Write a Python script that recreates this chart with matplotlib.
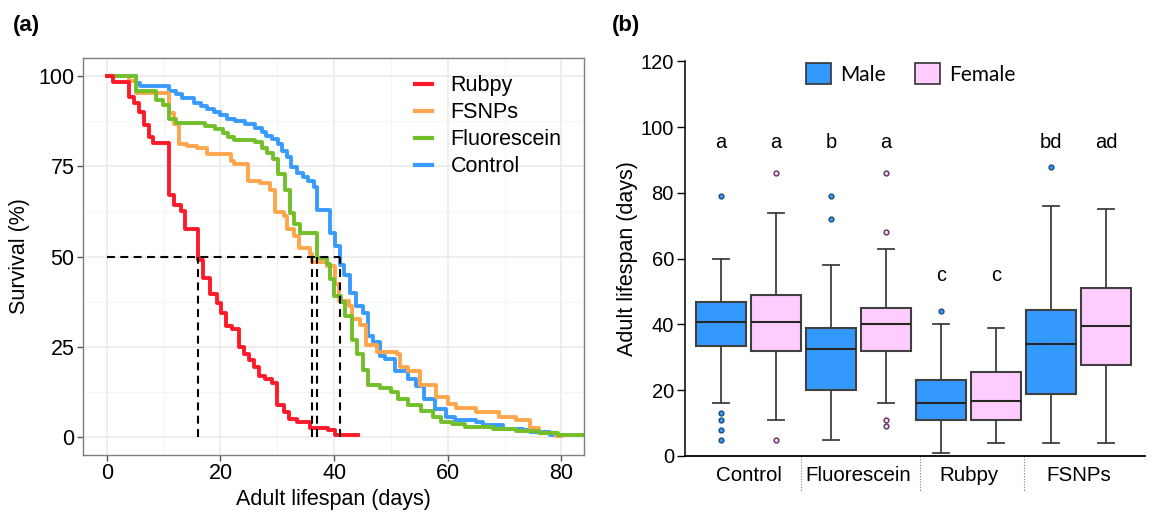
import matplotlib.pyplot as plt
import matplotlib.transforms as mtransforms
from matplotlib.patches import Patch
import numpy as np

plt.rcParams['font.family'] = ['Liberation Sans', 'DejaVu Sans']

# ---- panel (a): Kaplan-Meier steps, time (days) and survival (%)
control_t = [0, 5.1, 5.9, 10.9, 12.1, 13.3, 15.3, 16.5, 17.7, 18.8, 20.0, 21.2, 22.5, 24.3,
             26.0, 27.3, 28.0, 29.1, 30.2, 30.8, 31.7, 32.4, 33.4, 34.5, 35.4, 36.4, 37.0,
             39.3, 40.1, 41.0, 41.8, 42.8, 43.9, 45.1, 46.0, 46.9, 48.1, 48.9, 50.7, 53.0,
             54.5, 55.8, 57.7, 59.7, 61.2, 65.0, 66.2, 69.7, 73.2, 74.4, 78.0, 80.0]
control_s = [100, 98.0, 97.2, 95.8, 94.9, 94.0, 92.6, 91.7, 90.9, 90.0, 89.2, 88.2, 87.5, 86.6,
             85.7, 84.6, 83.5, 82.5, 81.1, 79.3, 77.5, 74.9, 73.1, 72.0, 71.0, 69.2, 63.0,
             56.6, 52.9, 47.6, 45.0, 40.0, 36.3, 34.4, 28.0, 26.2, 22.5, 21.5, 18.3, 16.0,
             14.2, 10.5, 7.8, 5.5, 4.6, 4.1, 3.2, 2.3, 1.8, 1.4, 0.5, 0.5]

fluor_t = [0, 5.1, 8.7, 9.9, 10.9, 12.1, 17.3, 19.1, 20.5, 21.3, 22.3, 26.1, 27.3, 28.2, 29.2,
           30.2, 31.4, 32.2, 33.0, 34.0, 37.0, 38.7, 39.3, 39.9, 41.3, 42.0, 43.1, 44.1, 45.1,
           46.0, 48.1, 50.0, 51.3, 53.0, 55.3, 57.4, 58.8, 60.7, 63.0, 68.0, 72.0, 76.0, 79.5, 84.0]
fluor_s = [100, 95.8, 93.5, 92.1, 88.0, 87.1, 86.2, 85.3, 84.2, 83.0, 82.4, 81.6, 80.2, 78.6, 77.0,
           73.0, 68.5, 62.0, 59.0, 56.5, 49.6, 47.9, 43.7, 39.1, 37.5, 33.5, 27.0, 23.0, 18.5,
           14.5, 13.6, 12.5, 10.5, 8.8, 7.3, 5.5, 4.2, 3.5, 2.7, 2.1, 1.6, 1.0, 0.5, 0.5]

fsnp_t = [0, 3.9, 5.1, 10.9, 11.8, 12.7, 14.1, 15.8, 17.7, 21.8, 22.4, 24.8, 27.0, 28.8, 29.6,
          31.2, 31.8, 33.0, 33.8, 35.8, 36.2, 38.7, 40.2, 40.8, 42.6, 43.1, 44.6, 45.7, 47.5,
          51.0, 51.6, 53.1, 55.1, 58.0, 60.0, 61.5, 65.0, 69.0, 72.0, 74.4, 76.0, 79.0, 80.0]
fsnp_s = [100, 98.5, 95.4, 89.8, 86.6, 81.1, 80.7, 80.2, 78.3, 76.6, 75.5, 71.0, 70.5, 68.5, 62.2,
          61.2, 57.5, 55.8, 52.3, 50.8, 48.5, 47.4, 42.5, 37.7, 36.3, 32.6, 30.9, 25.4, 23.6,
          23.1, 19.4, 18.4, 14.5, 11.0, 9.0, 8.0, 6.9, 5.5, 4.8, 2.5, 1.2, 0.4, 0.4]

rubpy_t = [0, 1.0, 3.9, 4.7, 5.6, 6.5, 7.5, 8.2, 10.9, 11.8, 13.0, 13.8, 16.0, 17.0, 18.2,
           19.4, 20.1, 20.9, 22.1, 23.2, 24.1, 25.0, 25.9, 26.7, 27.9, 29.1, 29.9, 31.1, 32.0,
           33.4, 35.7, 38.9, 40.1, 44.2]
rubpy_s = [100, 98.3, 94.3, 92.4, 90.1, 86.5, 83.2, 81.4, 67.1, 64.3, 62.5, 57.5, 49.0, 44.1, 39.5,
           37.2, 34.4, 30.7, 29.9, 24.8, 23.0, 21.2, 19.3, 16.9, 16.0, 15.0, 8.8, 6.9, 5.1,
           4.2, 2.4, 1.9, 0.6, 0.6]

medians = [16, 36.2, 37, 41]

# ---- panel (b): box summaries (days), order: Control M/F, Fluorescein M/F, Rubpy M/F, FSNPs M/F
groups = ['Control', 'Fluorescein', 'Rubpy', 'FSNPs']
sexes = ['Male', 'Female']
q1 = [33.5, 32, 20, 32, 11, 11, 19, 27.6]
med = [40.9, 40.9, 32.5, 40, 16, 16.8, 34, 39.6]
q3 = [46.7, 48.9, 39, 45, 23, 25.4, 44.4, 51]
whislo = [16, 11, 5, 16, 1, 4, 4, 4]
whishi = [60, 74, 58, 63, 40, 39, 76, 75]
fliers = [[79, 13, 11, 8, 5], [86, 5], [79, 72], [86, 68, 11, 9], [44], [], [88], []]
letters = ['a', 'a', 'b', 'a', 'c', 'c', 'bd', 'ad']
letter_y = [93.6, 93.6, 93.6, 93.6, 53.3, 53.3, 93.6, 93.6]

fig = plt.figure(figsize=(11.54, 5.12), dpi=100)

# ---------------- (a)
ax1 = fig.add_axes([0.0719, 0.1113, 0.4342, 0.7754])
curves = [(control_t, control_s, '#3A9BFF', 'Control'),
          (fsnp_t, fsnp_s, '#FFA64D', 'FSNPs'),
          (fluor_t, fluor_s, '#73BF2A', 'Fluorescein'),
          (rubpy_t, rubpy_s, '#FF1A2A', 'Rubpy')]
lines = {}
for t, s, c, name in curves:
    ln, = ax1.step(t, s, where='post', color=c, lw=2.8, label=name)
    lines[name] = ln

ax1.plot([0, max(medians)], [50, 50], color='black', lw=1.5, ls=(0, (3.8, 2.6)), zorder=5)
for m in medians:
    ax1.plot([m, m], [0, 50], color='black', lw=1.5, ls=(0, (3.8, 2.6)), zorder=5)

ax1.set_xlim(-4.2, 84)
ax1.set_ylim(-5, 105)
ax1.set_xticks([0, 20, 40, 60, 80])
ax1.set_yticks([0, 25, 50, 75, 100])
ax1.set_xticks([10, 30, 50, 70], minor=True)
ax1.set_yticks([12.5, 37.5, 62.5, 87.5], minor=True)
ax1.grid(which='major', color='#EBEBEB', lw=1.2)
ax1.grid(which='minor', color='#F4F4F4', lw=0.7)
ax1.set_axisbelow(True)
ax1.tick_params(which='major', length=4, width=1, color='#555555', labelsize=15.5, pad=2)
ax1.tick_params(which='minor', length=0)
for sp in ax1.spines.values():
    sp.set_color('#7F7F7F')
    sp.set_linewidth(1)
ax1.set_xlabel('Adult lifespan (days)', fontsize=15.5, labelpad=3)
ax1.set_ylabel('Survival (%)', fontsize=15.5, labelpad=6)

order = ['Rubpy', 'FSNPs', 'Fluorescein', 'Control']
leg1 = ax1.legend([lines[n] for n in order], order, loc='upper left',
                  bbox_to_anchor=(0.663, 0.957), frameon=False, fontsize=15.5,
                  handlelength=0.8, handletextpad=0.85, labelspacing=0.28,
                  borderpad=0, borderaxespad=0)
for h in leg1.get_lines():
    h.set_linewidth(3)

# ---------------- (b)
ax2 = fig.add_axes([0.5936, 0.1094, 0.3986, 0.7705])
stats = []
for i in range(len(med)):
    stats.append(dict(med=med[i], q1=q1[i], q3=q3[i], whislo=whislo[i],
                      whishi=whishi[i], fliers=fliers[i]))
positions = np.arange(len(med))
bp = ax2.bxp(stats, positions=positions, widths=0.91, patch_artist=True,
             capwidths=0.28,
             boxprops=dict(edgecolor='#404040', linewidth=1.5),
             medianprops=dict(color='#262626', linewidth=1.5),
             whiskerprops=dict(color='#404040', linewidth=1.3),
             capprops=dict(color='#404040', linewidth=1.3))
face = ['#3399FF', '#FFCCFF']
fl_edge = ['#1F4E79', '#5A3A5A']
for i, box in enumerate(bp['boxes']):
    box.set_facecolor(face[i % 2])
for i, fl in enumerate(bp['fliers']):
    fl.set(marker='o', markersize=3.5, markerfacecolor=face[i % 2],
           markeredgecolor=fl_edge[i % 2], markeredgewidth=1)

for x, lab, y in zip(positions, letters, letter_y):
    ax2.text(x, y, lab, ha='center', va='baseline', fontsize=14.5)

ax2.set_xlim(-0.655, 7.71)
ax2.set_ylim(0, 120)
ax2.set_yticks(range(0, 121, 20))
ax2.set_xticks([0.5, 2.5, 4.5, 6.5])
ax2.set_xticklabels(groups)
ax2.tick_params(axis='x', length=0, labelsize=14.8, pad=7)
ax2.tick_params(axis='y', length=6, width=1, labelsize=14.5, pad=2)
ax2.spines['top'].set_visible(False)
ax2.spines['right'].set_visible(False)
ax2.spines['left'].set_linewidth(1.1)
ax2.spines['bottom'].set_linewidth(1.3)
ax2.set_ylabel('Adult lifespan (days)', fontsize=15.5, labelpad=2)

trans = mtransforms.blended_transform_factory(ax2.transData, ax2.transAxes)
for x in [1.45, 3.62, 5.515]:
    ax2.plot([x, x], [0, -0.092], transform=trans, clip_on=False,
             color='#808080', lw=0.8, ls=(0, (1, 1.5)))

handles = [Patch(facecolor=face[0], edgecolor='#333333', lw=1.2, label=sexes[0]),
           Patch(facecolor=face[1], edgecolor='#333333', lw=1.2, label=sexes[1])]
fig.legend(handles=handles, loc='upper left', bbox_to_anchor=(0.6984, 0.876), ncol=2,
           frameon=False, prop={'family': 'Lato', 'size': 15}, handlelength=1.2,
           handleheight=1.15, handletextpad=0.45, columnspacing=1.4,
           borderpad=0, borderaxespad=0)

fig.text(13 / 1154, 1 - 25 / 512, '(a)', fontsize=16, fontweight='bold', va='center')
fig.text(612 / 1154, 1 - 25 / 512, '(b)', fontsize=16, fontweight='bold', va='center')

fig.savefig('out.png', dpi=100)
